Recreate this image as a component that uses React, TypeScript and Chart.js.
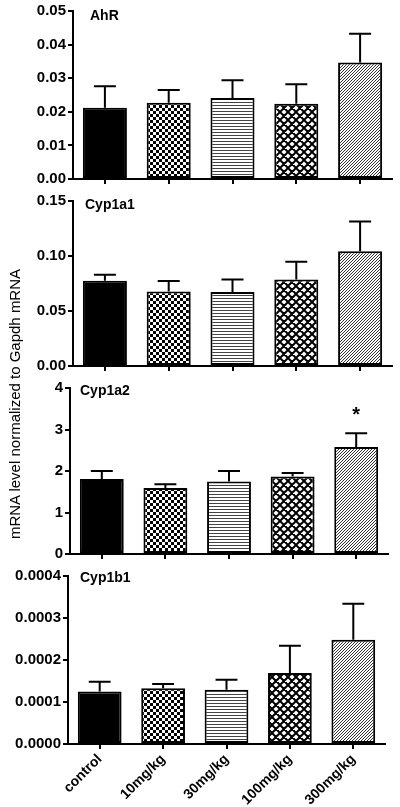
import React, { useEffect, useRef } from 'react';
import { Chart, registerables } from 'chart.js';
Chart.register(...registerables);

const groups = ['control', '10mg/kg', '30mg/kg', '100mg/kg', '300mg/kg'];

const ahrMean = [0.0212, 0.0227, 0.0241, 0.0224, 0.0347];
const ahrSem = [0.0064, 0.0038, 0.0053, 0.0058, 0.0085];
const ahrTicks = [0, 0.01, 0.02, 0.03, 0.04, 0.05];

const cyp1a1Mean = [0.0775, 0.0678, 0.0673, 0.0787, 0.1044];
const cyp1a1Sem = [0.0055, 0.0094, 0.0114, 0.016, 0.0269];
const cyp1a1Ticks = [0, 0.05, 0.1, 0.15];

const cyp1a2Mean = [1.81, 1.59, 1.75, 1.87, 2.58];
const cyp1a2Sem = [0.19, 0.09, 0.25, 0.08, 0.33];
const cyp1a2Ticks = [0, 1, 2, 3, 4];

const cyp1b1Mean = [0.000125, 0.000133, 0.000129, 0.000169, 0.000248];
const cyp1b1Sem = [0.000023, 0.00001, 0.000024, 0.000065, 0.000086];
const cyp1b1Ticks = [0, 0.0001, 0.0002, 0.0003, 0.0004];

const yTitle = 'mRNA level normalized to Gapdh mRNA';
const FONT = "'Liberation Sans', Arial, sans-serif";

function makePatterns(ctx: CanvasRenderingContext2D): (string | CanvasPattern)[] {
  const mk = (w: number, h: number, draw: (c: CanvasRenderingContext2D) => void) => {
    const cv = document.createElement('canvas');
    cv.width = w;
    cv.height = h;
    const c = cv.getContext('2d')!;
    c.fillStyle = '#fff';
    c.fillRect(0, 0, w, h);
    draw(c);
    return ctx.createPattern(cv, 'repeat')!;
  };
  const checker = mk(6, 6, (c) => {
    c.fillStyle = '#000';
    c.fillRect(0, 0, 3, 3);
    c.fillRect(3, 3, 3, 3);
  });
  const horiz = mk(4, 3, (c) => {
    c.fillStyle = '#444';
    c.fillRect(0, 0, 4, 1);
  });
  const P = 8;
  const cross = mk(P, P, (c) => {
    c.strokeStyle = '#000';
    c.lineWidth = 2;
    c.beginPath();
    for (const o of [-P, 0, P]) {
      c.moveTo(o - 1, -1); c.lineTo(o + P + 1, P + 1);
      c.moveTo(o - 1, P + 1); c.lineTo(o + P + 1, -1);
    }
    c.stroke();
  });
  const Q = 3;
  const diag = mk(Q, Q, (c) => {
    c.strokeStyle = '#333';
    c.lineWidth = 1;
    c.beginPath();
    for (const o of [-Q, 0, Q]) {
      c.moveTo(o - 1, Q + 1); c.lineTo(o + Q + 1, -1);
    }
    c.stroke();
  });
  return ['#000', checker, horiz, cross, diag];
}

type PanelCfg = {
  title: string;
  means: number[];
  sems: number[];
  ticks: number[];
  decimals: number;
  top: number;
  height: number;
  padTop: number;
  left: number;
  right: number;
  xHeight: number;
  showLabels: boolean;
  titleX: number;
  titleDy: number;
  star?: number;
};

const panels: PanelCfg[] = [
  { title: 'AhR', means: ahrMean, sems: ahrSem, ticks: ahrTicks, decimals: 2, top: 0, height: 190, padTop: 10, left: 73, right: 392, xHeight: 10, showLabels: false, titleX: 90, titleDy: 5 },
  { title: 'Cyp1a1', means: cyp1a1Mean, sems: cyp1a1Sem, ticks: cyp1a1Ticks, decimals: 2, top: 190, height: 187, padTop: 8, left: 73, right: 392, xHeight: 8, showLabels: false, titleX: 85, titleDy: 4 },
  { title: 'Cyp1a2', means: cyp1a2Mean, sems: cyp1a2Sem, ticks: cyp1a2Ticks, decimals: 0, top: 377, height: 188, padTop: 8, left: 70, right: 388, xHeight: 8, showLabels: false, titleX: 80, titleDy: 3, star: 4 },
  { title: 'Cyp1b1', means: cyp1b1Mean, sems: cyp1b1Sem, ticks: cyp1b1Ticks, decimals: 4, top: 565, height: 242, padTop: 10, left: 68, right: 385, xHeight: 63, showLabels: true, titleX: 80, titleDy: 2 },
];

function PanelChart({ cfg }: { cfg: PanelCfg }) {
  const ref = useRef<HTMLCanvasElement | null>(null);
  useEffect(() => {
    const canvas = ref.current!;
    const ctx = canvas.getContext('2d')!;
    const fills = makePatterns(ctx);
    const extras = {
      id: 'extras',
      afterDatasetsDraw(chart: any) {
        const c = chart.ctx;
        const meta = chart.getDatasetMeta(0);
        const ys = chart.scales.y;
        c.save();
        c.strokeStyle = '#000';
        c.lineWidth = 2;
        meta.data.forEach((bar: any, i: number) => {
          const yTop = ys.getPixelForValue(cfg.means[i] + cfg.sems[i]);
          const yBar = ys.getPixelForValue(cfg.means[i]);
          const half = bar.width / 4;
          c.beginPath();
          c.moveTo(bar.x, yBar);
          c.lineTo(bar.x, yTop);
          c.moveTo(bar.x - half, yTop);
          c.lineTo(bar.x + half, yTop);
          c.stroke();
          if (cfg.star === i) {
            c.fillStyle = '#000';
            c.font = `bold 20px ${FONT}`;
            c.textAlign = 'center';
            c.textBaseline = 'middle';
            c.fillText('*', bar.x, yTop - 18);
          }
        });
        c.fillStyle = '#000';
        c.font = `bold 14px ${FONT}`;
        c.textAlign = 'left';
        c.textBaseline = 'middle';
        c.fillText(cfg.title, cfg.titleX, chart.chartArea.top + cfg.titleDy);
        c.restore();
      },
    };
    const last = cfg.ticks[cfg.ticks.length - 1];
    const chart = new Chart(ctx, {
      type: 'bar',
      data: {
        labels: groups,
        datasets: [
          {
            data: cfg.means,
            backgroundColor: fills as any,
            borderColor: '#000',
            borderWidth: 2,
            borderSkipped: false,
            categoryPercentage: 1,
            barPercentage: 0.69,
          },
        ],
      },
      options: {
        animation: false,
        responsive: false,
        maintainAspectRatio: false,
        layout: { padding: { top: cfg.padTop, left: 0, right: 400 - cfg.right, bottom: 0 } },
        plugins: { legend: { display: false }, tooltip: { enabled: false } },
        scales: {
          x: {
            grid: { display: true, drawOnChartArea: false, drawTicks: true, tickLength: 5, offset: false, color: '#000', lineWidth: 2 },
            border: { display: true, color: '#000', width: 2 },
            ticks: {
              color: '#000',
              font: { family: FONT, size: 14, weight: 'bold' },
              maxRotation: 45,
              minRotation: 45,
              padding: 2,
              autoSkip: false,
              callback: (_v: any, i: number) => (cfg.showLabels ? groups[i] : ''),
            },
            afterFit: (s: any) => {
              s.height = cfg.xHeight;
            },
          },
          y: {
            min: 0,
            max: last,
            afterBuildTicks: (s: any) => {
              s.ticks = cfg.ticks.map((v) => ({ value: v }));
            },
            ticks: {
              color: '#000',
              font: { family: FONT, size: 15, weight: 'bold' },
              padding: 2,
              callback: (v: any) => Number(v).toFixed(cfg.decimals),
            },
            grid: { display: true, drawOnChartArea: false, drawTicks: true, tickLength: 5, color: '#000', lineWidth: 2 },
            border: { display: true, color: '#000', width: 2 },
            afterFit: (s: any) => {
              s.width = cfg.left;
            },
          },
        },
      },
      plugins: [extras],
    });
    return () => chart.destroy();
  }, [cfg]);
  return (
    <canvas
      ref={ref}
      width={400}
      height={cfg.height}
      style={{ position: 'absolute', left: 0, top: cfg.top, width: 400, height: cfg.height }}
    />
  );
}

export default function App() {
  return (
    <div style={{ position: 'absolute', left: 0, top: 0, width: 400, height: 807, background: '#fff', overflow: 'hidden' }}>
      {panels.map((p) => (
        <PanelChart key={p.title} cfg={p} />
      ))}
      <div
        style={{
          position: 'absolute',
          left: 15 - 160,
          top: 404 - 9,
          width: 320,
          height: 18,
          lineHeight: '18px',
          textAlign: 'center',
          fontFamily: FONT,
          fontSize: 15,
          color: '#000',
          transform: 'rotate(-90deg)',
          transformOrigin: '50% 50%',
          whiteSpace: 'nowrap',
        }}
      >
        {yTitle}
      </div>
    </div>
  );
}
